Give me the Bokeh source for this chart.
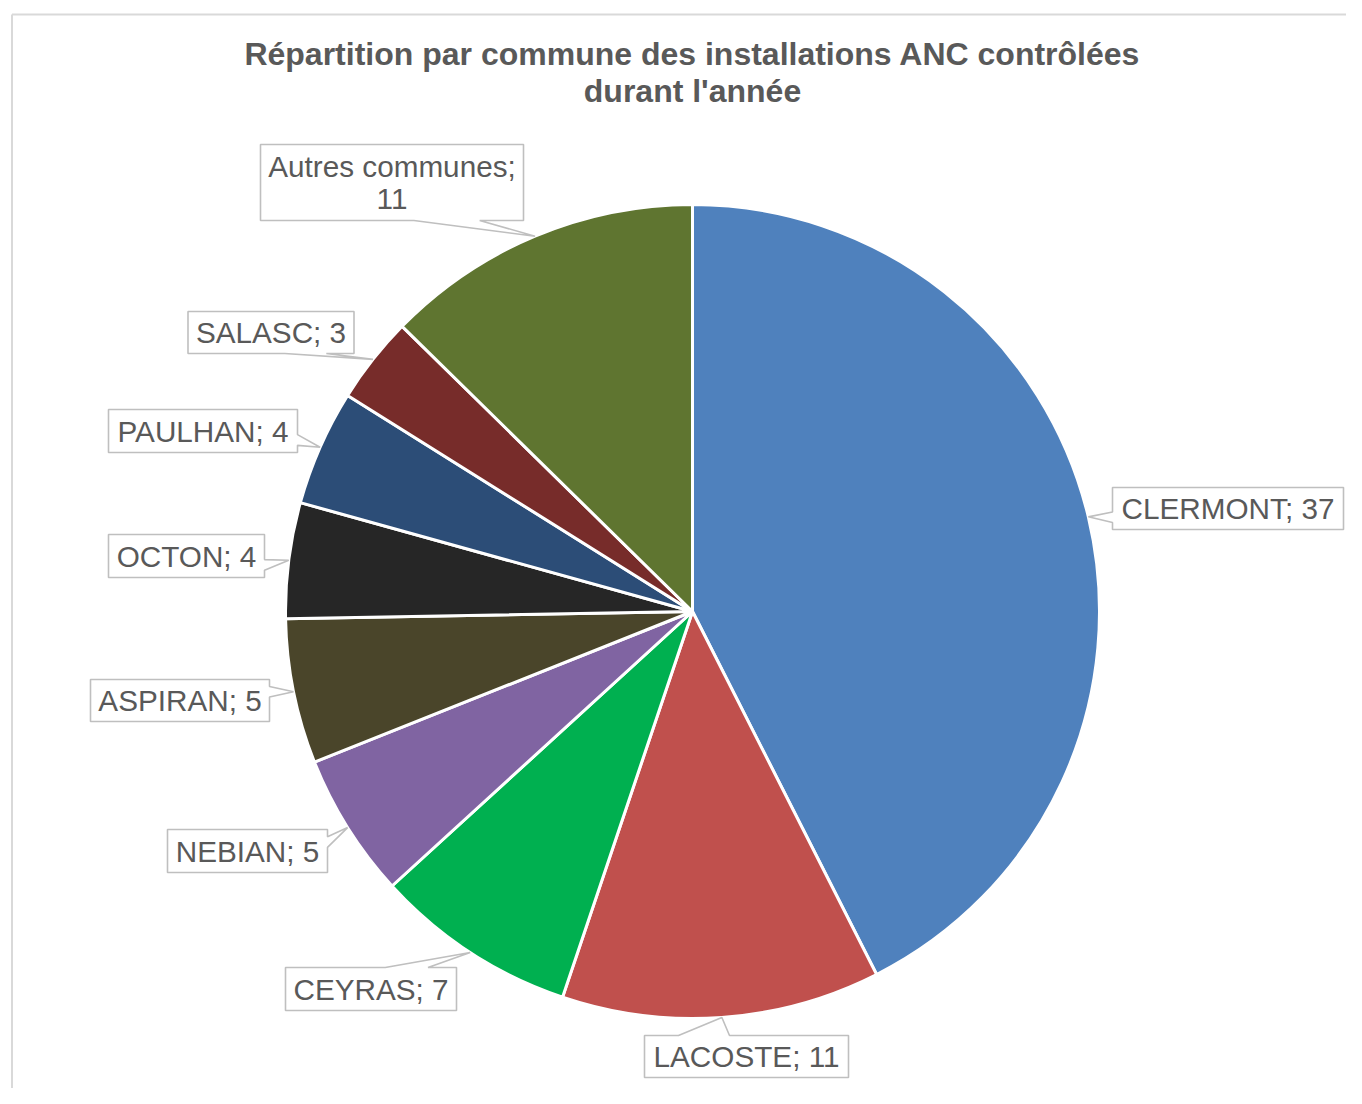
import numpy as np
from bokeh.plotting import figure
from bokeh.models import Range1d, ColumnDataSource
from bokeh.embed import file_html
from bokeh.resources import INLINE
from bokeh.core.properties import value

# ---- data ----
communes = ["CLERMONT", "LACOSTE", "CEYRAS", "NEBIAN", "ASPIRAN",
            "OCTON", "PAULHAN", "SALASC", "Autres communes"]
valeurs = [37, 11, 7, 5, 5, 4, 4, 3, 11]
couleurs = ["#4F81BD", "#C0504D", "#00B050", "#8064A2", "#4A452A",
            "#262626", "#2C4D77", "#772C2A", "#5F7530"]
titre = ["Répartition par commune des installations ANC contrôlées",
         "durant l'année"]

# ---- layout (page pixels) ----
W, H = 1346, 1088
OFF = 0
def X(px):
    return px - OFF
def Y(py):
    return H - (py - OFF)

CX, CY, R = 692, 611, 407
# label boxes: centre x, centre y, width, height
boites = [(1227.5, 508, 231, 42), (746, 1056, 204, 42), (370.5, 988.5, 171, 43),
          (247, 850.5, 160, 43), (179.5, 700, 179, 42), (186, 555.5, 156, 43),
          (202.5, 430.5, 189, 43), (270.5, 332, 166, 42), (391.5, 182, 263, 76)]

GRIS_TXT = "#595959"
GRIS_CADRE = "#BFBFBF"
FONT = value("Liberation Sans")

p = figure(width=W, height=H, x_range=Range1d(0, W), y_range=Range1d(0, H),
           x_axis_type=None, y_axis_type=None, output_backend="svg",
           toolbar_location=None, min_border=0, outline_line_color=None,
           background_fill_color="white", border_fill_color="white")
p.grid.visible = False

# chart area border (left and top only visible)
p.line(x=[X(11.5), X(11.5)], y=[Y(1200), Y(14)], line_color="#D9D9D9", line_width=2)
p.line(x=[X(11.5), X(1500)], y=[Y(14), Y(14)], line_color="#D9D9D9", line_width=2)

# ---- pie ----
v = np.array(valeurs, dtype=float)
frac = v / v.sum()
cum = np.concatenate([[0.0], np.cumsum(frac)])
start = np.pi / 2 - 2 * np.pi * cum[1:]
end = np.pi / 2 - 2 * np.pi * cum[:-1]
src = ColumnDataSource(dict(x=[X(CX)] * len(v), y=[Y(CY)] * len(v),
                            start=start, end=end, color=couleurs))
p.wedge(x="x", y="y", radius=R, start_angle="start", end_angle="end",
        fill_color="color", line_color="white", line_width=3, source=src)

# ---- callouts ----
mid = (start + end) / 2
tips_x = X(CX) + R * np.cos(mid)
tips_y = Y(CY) + R * np.sin(mid)

xs, ys = [], []
for (bcx, bcy, w, h), tx, ty in zip(boites, tips_x, tips_y):
    bx, by = X(bcx), Y(bcy)
    x0, x1 = bx - w / 2, bx + w / 2
    yb, yt = by - h / 2, by + h / 2
    dx, dy = tx - bx, ty - by
    BL, BR, TR, TL = (x0, yb), (x1, yb), (x1, yt), (x0, yt)
    if abs(dx) / w > abs(dy) / h:
        s = np.sign(dy) if dy != 0 else 1
        a, b = sorted([by + s * h / 12, by + s * h * 4 / 12])
        if dx > 0:   # right side (BR -> TR, increasing y)
            pts = [BL, BR, (x1, a), (tx, ty), (x1, b), TR, TL]
        else:        # left side (TL -> BL, decreasing y)
            pts = [BL, BR, TR, TL, (x0, b), (tx, ty), (x0, a)]
    else:
        s = np.sign(dx) if dx != 0 else 1
        a, b = sorted([bx + s * w / 12, bx + s * w * 4 / 12])
        if dy < 0:   # bottom side (BL -> BR, increasing x)
            pts = [BL, (a, yb), (tx, ty), (b, yb), BR, TR, TL]
        else:        # top side (TR -> TL, decreasing x)
            pts = [BL, BR, TR, (b, yt), (tx, ty), (a, yt), TL]
    xs.append([q[0] for q in pts])
    ys.append([q[1] for q in pts])

p.patches(xs=xs, ys=ys, fill_color="white", line_color=GRIS_CADRE, line_width=1.6)

# label texts
lx, ly, lt = [], [], []
for nom, val, (bcx, bcy, w, h) in zip(communes, valeurs, boites):
    if nom == "Autres communes":
        lx += [X(bcx), X(bcx)]
        ly += [Y(bcy - 16.5), Y(bcy + 16.5)]
        lt += [f"{nom};", f"{val}"]
    else:
        lx.append(X(bcx))
        ly.append(Y(bcy))
        lt.append(f"{nom}; {val}")
p.text(x=lx, y=ly, text=lt, text_align="center", text_baseline="middle",
       text_font=FONT, text_font_size="29.7px", text_color=GRIS_TXT)

# title
p.text(x=[X(692), X(692)], y=[Y(53), Y(90)], text=titre, text_align="center",
       text_baseline="middle", text_font=FONT, text_font_size="32px",
       text_font_style="bold", text_color=GRIS_TXT)

open("out.html", "w").write(file_html(p, INLINE))
